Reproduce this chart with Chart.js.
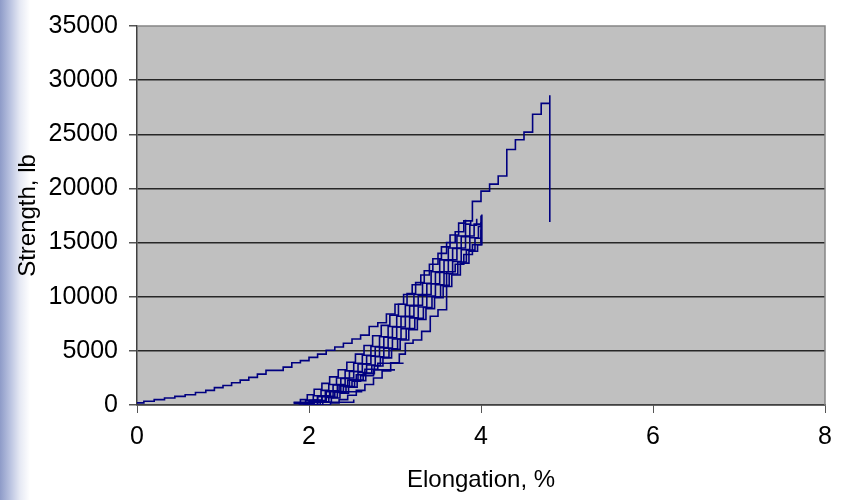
<!DOCTYPE html>
<html lang="en">
<head>
    <meta charset="UTF-8">
    <title>Strength vs Elongation</title>
    <script src="https://cdn.jsdelivr.net/npm/chart.js"></script>
    <style>
        body {
            margin: 0;
            width: 846px;
            height: 500px;
            overflow: hidden;
            background: linear-gradient(90deg, #8e9bc8 0px, #b9c2e0 10px, #e6e9f4 20px, #ffffff 30px);
        }
        #wrap {
            position: relative;
            width: 846px;
            height: 500px;
        }
    </style>
</head>
<body>
    <div id="wrap">
        <canvas id="chart" width="846" height="500"></canvas>
    </div>

    <script>
        // axis ticks
        const xTicks = [0, 2, 4, 6, 8];
        const yTicks = [0, 5000, 10000, 15000, 20000, 25000, 30000, 35000];

        // long test: rises to break at ~4.8 %
        const runMain = [
            [0, 200], [0.08, 350], [0.2, 500], [0.32, 650], [0.44, 800], [0.56, 950],
            [0.68, 1150], [0.8, 1350], [0.9, 1600], [1.0, 1800], [1.1, 2050], [1.2, 2300],
            [1.3, 2550], [1.4, 2850], [1.5, 3200], [1.7, 3500], [1.8, 3900], [1.9, 4100],
            [2.0, 4400], [2.1, 4700], [2.2, 5050], [2.3, 5350], [2.4, 5700], [2.5, 6100],
            [2.6, 6450], [2.7, 7250], [2.8, 7600], [2.9, 8400], [3.0, 9300], [3.1, 10200],
            [3.2, 11100], [3.3, 12000], [3.4, 13000], [3.5, 14000], [3.6, 15000], [3.7, 16000],
            [3.8, 17000], [3.9, 18800], [4.0, 19750], [4.1, 20400], [4.2, 21150], [4.3, 23600],
            [4.4, 24500], [4.5, 25200], [4.6, 26850], [4.7, 27850], [4.8, 28600], [4.8, 16900]
        ];

        // cycled tests, bundle between 2 and 4 %
        const run1 = [
            [1.82, 150], [1.9, 500], [1.98, 950], [2.06, 1450], [2.15, 2000], [2.24, 2600],
            [2.34, 3250], [2.44, 3950], [2.54, 4700], [2.64, 5500], [2.74, 6400], [2.84, 7350],
            [2.94, 8300], [3.04, 9300], [3.14, 10300], [3.24, 11300], [3.34, 12400], [3.44, 13500],
            [3.54, 14600], [3.64, 15700], [3.74, 16800], [3.82, 17100]
        ];
        const run2 = [
            [1.88, 100], [1.96, 400], [2.05, 850], [2.14, 1350], [2.23, 1900], [2.32, 2500],
            [2.42, 3150], [2.52, 3850], [2.62, 4600], [2.72, 5400], [2.82, 6300], [2.92, 7250],
            [3.02, 8200], [3.12, 9200], [3.22, 10200], [3.32, 11250], [3.42, 12300], [3.52, 13400],
            [3.62, 14500], [3.72, 15600], [3.82, 16700], [3.88, 17000]
        ];
        const run3 = [
            [1.93, 0], [2.01, 350], [2.1, 800], [2.19, 1300], [2.28, 1850], [2.37, 2450],
            [2.47, 3100], [2.57, 3800], [2.67, 4550], [2.77, 5350], [2.87, 6250], [2.97, 7200],
            [3.07, 8150], [3.17, 9150], [3.27, 10150], [3.37, 11200], [3.47, 12250], [3.57, 13350],
            [3.67, 14450], [3.77, 15550], [3.87, 16600], [3.95, 17200]
        ];
        const run4 = [
            [1.97, 0], [2.06, 350], [2.15, 800], [2.24, 1300], [2.33, 1900], [2.42, 2500],
            [2.52, 3100], [2.62, 3800], [2.72, 4500], [2.82, 5300], [2.92, 6200], [3.02, 7200],
            [3.12, 8200], [3.22, 9200], [3.32, 10200], [3.42, 11200], [3.52, 12300], [3.62, 13400],
            [3.72, 14500], [3.82, 15600], [3.92, 16700], [4.0, 17500], [4.0, 15000]
        ];
        const run5 = [
            [2.0, 0], [2.1, 300], [2.19, 700], [2.28, 1200], [2.37, 1750], [2.47, 2350],
            [2.57, 3000], [2.67, 3700], [2.77, 4450], [2.87, 5250], [2.97, 6100], [3.07, 7050],
            [3.17, 8050], [3.27, 9050], [3.37, 10050], [3.47, 11100], [3.57, 12150], [3.67, 13250],
            [3.77, 14350], [3.87, 15450], [3.97, 16500], [4.0, 16900]
        ];
        const run6 = [
            [2.03, 0], [2.13, 300], [2.23, 700], [2.33, 1150], [2.43, 1700], [2.53, 2300],
            [2.63, 2950], [2.73, 3650], [2.83, 4400], [2.93, 5200], [3.03, 6100], [3.13, 7050],
            [3.23, 8000], [3.33, 9000], [3.43, 10000], [3.53, 11050], [3.63, 12100], [3.73, 13200],
            [3.83, 14300], [3.93, 15400], [4.0, 16200]
        ];
        const run7 = [
            [2.06, 0], [2.16, 250], [2.26, 650], [2.36, 1100], [2.46, 1650], [2.56, 2250],
            [2.66, 2900], [2.76, 3600], [2.86, 4350], [2.96, 5150], [3.06, 6000], [3.16, 6950],
            [3.26, 7900], [3.36, 8900], [3.46, 9900], [3.56, 10950], [3.66, 12000], [3.76, 13100],
            [3.86, 14200], [3.96, 14800], [4.01, 17600]
        ];
        const run8 = [
            [2.15, 0], [2.25, 200], [2.35, 500], [2.45, 900], [2.55, 1350], [2.65, 1900],
            [2.75, 2500], [2.85, 3150], [2.95, 3900], [3.05, 4700], [3.12, 5700], [3.21, 6000],
            [3.31, 6800], [3.41, 8200], [3.5, 8800], [3.6, 9260], [3.6, 12300], [3.7, 13000],
            [3.8, 13900], [3.9, 14800], [4.0, 15500]
        ];
        // short tests that stopped early
        const run9 = [[1.82, 250], [2.52, 250], [2.52, 500]];
        const run10 = [[1.9, 150], [2.0, 450], [2.1, 800], [2.2, 1230], [2.62, 1230]];
        const run11 = [
            [1.95, 100], [2.05, 450], [2.15, 850], [2.25, 1300], [2.35, 1800],
            [2.45, 2300], [2.55, 2800], [2.65, 3300], [2.8, 3860], [3.1, 3860]
        ];
        const run12 = [
            [2.0, 50], [2.1, 400], [2.2, 800], [2.3, 1250], [2.4, 1700],
            [2.5, 2200], [2.6, 2700], [2.75, 3240], [3.0, 3240]
        ];

        const runs = [runMain, run1, run2, run3, run4, run5, run6, run7, run8, run9, run10, run11, run12];

        const fontFamily = "Arial, 'Liberation Sans', sans-serif";

        const plotBg = {
            id: 'plotBg',
            beforeDraw(chart) {
                const a = chart.chartArea;
                const ctx = chart.ctx;
                ctx.save();
                ctx.fillStyle = '#c0c0c0';
                ctx.fillRect(a.left, a.top, a.right - a.left, a.bottom - a.top);
                ctx.restore();
            },
            afterDraw(chart) {
                const a = chart.chartArea;
                const ctx = chart.ctx;
                ctx.save();
                ctx.strokeStyle = '#858585';
                ctx.lineWidth = 1.5;
                ctx.beginPath();
                ctx.moveTo(a.left, a.top);
                ctx.lineTo(a.right, a.top);
                ctx.lineTo(a.right, a.bottom);
                ctx.stroke();
                ctx.restore();
            }
        };

        new Chart(document.getElementById('chart'), {
            type: 'scatter',
            data: {
                datasets: runs.map(r => ({
                    data: r,
                    showLine: true,
                    stepped: 'before',
                    borderColor: '#000080',
                    borderWidth: 1.6,
                    pointRadius: 0,
                    fill: false
                }))
            },
            options: {
                responsive: false,
                animation: false,
                events: [],
                layout: { padding: { left: 0, top: 26, right: 21, bottom: 0 } },
                plugins: {
                    legend: { display: false },
                    tooltip: { enabled: false }
                },
                scales: {
                    x: {
                        type: 'linear',
                        min: xTicks[0],
                        max: xTicks[xTicks.length - 1],
                        afterBuildTicks: s => { s.ticks = xTicks.map(v => ({ value: v })); },
                        afterFit: s => { s.height = 95; },
                        grid: {
                            drawOnChartArea: false,
                            drawTicks: true,
                            tickLength: 8,
                            tickColor: '#555'
                        },
                        border: { color: '#404040', width: 1.5 },
                        ticks: {
                            color: '#000',
                            padding: 9,
                            maxRotation: 0,
                            font: { family: fontFamily, size: 25 }
                        },
                        title: {
                            display: true,
                            text: 'Elongation, %',
                            color: '#000',
                            padding: { top: 0, bottom: 5 },
                            font: { family: fontFamily, size: 24 }
                        }
                    },
                    y: {
                        type: 'linear',
                        min: yTicks[0],
                        max: yTicks[yTicks.length - 1],
                        afterBuildTicks: s => { s.ticks = yTicks.map(v => ({ value: v })); },
                        afterFit: s => { s.width = 137; },
                        grid: {
                            color: ctx => (ctx.tick && ctx.tick.value === yTicks[yTicks.length - 1]) ? 'rgba(0,0,0,0)' : '#262626',
                            lineWidth: 1.5,
                            drawTicks: true,
                            tickLength: 8,
                            tickColor: '#555'
                        },
                        border: { color: '#404040', width: 1.5 },
                        ticks: {
                            color: '#000',
                            padding: 11,
                            callback: v => String(v),
                            font: { family: fontFamily, size: 25 }
                        },
                        title: {
                            display: true,
                            text: 'Strength, lb',
                            color: '#000',
                            padding: { top: 14, bottom: 0 },
                            font: { family: fontFamily, size: 24 }
                        }
                    }
                }
            },
            plugins: [plotBg]
        });
    </script>
</body>
</html>
